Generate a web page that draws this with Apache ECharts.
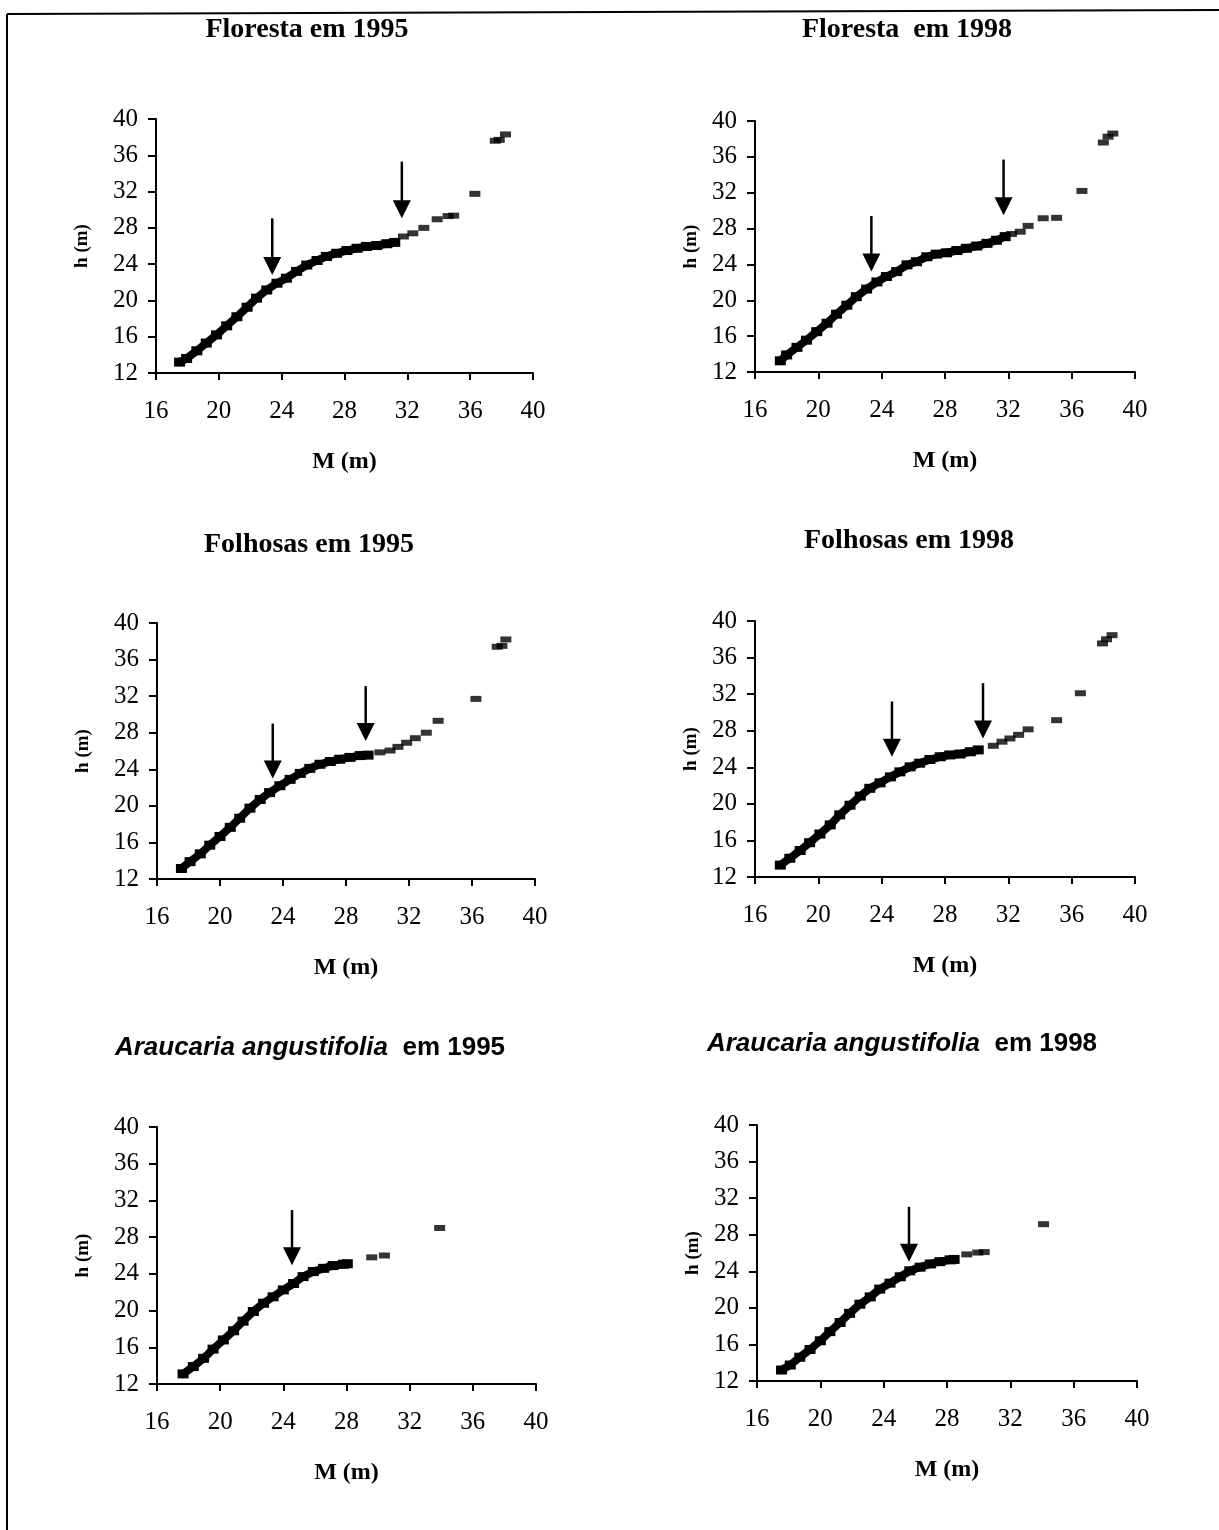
<!DOCTYPE html>
<html><head><meta charset="utf-8">
<script src="https://cdn.jsdelivr.net/npm/echarts@6.0.0/dist/echarts.min.js"></script>
<style>html,body{margin:0;padding:0;background:#fff}#c{width:1219px;height:1530px}</style>
</head><body><div id="c"></div><script>
const xTicks = [16, 20, 24, 28, 32, 36, 40];
const yTicks = [12, 16, 20, 24, 28, 32, 36, 40];
const panelTitles = ['Floresta em 1995', 'Floresta  em 1998', 'Folhosas em 1995', 'Folhosas em 1998', 'Araucaria angustifolia|  em 1995', 'Araucaria angustifolia|  em 1998'];
const xName = 'M (m)';
const yName = 'h (m)';

const floresta1995Curve = [[17.5,13.2],[17.95,13.6],[18.6,14.45],[19.2,15.3],[19.85,16.2],[20.5,17.2],[21.15,18.2],[21.8,19.25],[22.4,20.25],[23.05,21.15],[23.7,21.9],[24.3,22.45],[24.95,23.2],[25.6,23.9],[26.25,24.4],[26.85,24.85],[27.5,25.2],[28.15,25.5],[28.8,25.75],[29.4,25.95],[30.05,26.05],[30.7,26.25],[31.2,26.4]];
const floresta1995Tail = [[31.75,27.05],[32.35,27.4],[33.05,28.0],[33.9,28.95],[34.6,29.3],[34.95,29.35],[36.3,31.75],[37.6,37.6],[37.85,37.7],[38.25,38.3]];
const floresta1995Arrows = [[23.4,29.05,22.8],[31.65,35.3,29.05]];

const floresta1998Curve = [[17.6,13.25],[18.0,13.9],[18.65,14.75],[19.25,15.55],[19.9,16.5],[20.55,17.45],[21.15,18.45],[21.8,19.45],[22.4,20.4],[23.05,21.25],[23.7,22.05],[24.3,22.65],[24.95,23.2],[25.6,23.95],[26.2,24.3],[26.85,24.85],[27.45,25.15],[28.1,25.3],[28.75,25.55],[29.35,25.8],[30.0,26.05],[30.65,26.35],[31.25,26.7],[31.8,27.1]];
const floresta1998Tail = [[32.2,27.4],[32.75,27.65],[33.25,28.3],[34.2,29.15],[35.05,29.2],[36.65,32.2],[38.0,37.6],[38.3,38.25],[38.6,38.6]];
const floresta1998Arrows = [[23.35,29.4,23.2],[31.7,35.7,29.5]];

const folhosas1995Curve = [[17.55,13.15],[18.1,13.9],[18.75,14.75],[19.35,15.7],[20.0,16.65],[20.65,17.65],[21.25,18.65],[21.9,19.75],[22.55,20.7],[23.15,21.45],[23.8,22.2],[24.45,22.9],[25.1,23.55],[25.7,24.1],[26.35,24.55],[27.0,24.85],[27.6,25.1],[28.25,25.3],[28.9,25.5],[29.4,25.55]];
const folhosas1995Tail = [[30.15,25.85],[30.8,26.05],[31.3,26.45],[31.85,26.9],[32.4,27.4],[33.1,28.0],[33.85,29.3],[36.25,31.7],[37.6,37.4],[37.9,37.5],[38.15,38.2]];
const folhosas1995Arrows = [[23.35,29.0,23.0],[29.25,33.1,27.1]];

const folhosas1998Curve = [[17.6,13.3],[18.2,14.05],[18.85,14.9],[19.45,15.75],[20.1,16.7],[20.75,17.7],[21.35,18.8],[22.0,19.85],[22.65,20.85],[23.25,21.7],[23.9,22.3],[24.55,22.95],[25.15,23.5],[25.8,24.05],[26.4,24.45],[27.05,24.85],[27.7,25.15],[28.3,25.35],[28.95,25.45],[29.6,25.7],[30.1,25.9]];
const folhosas1998Tail = [[31.05,26.35],[31.6,26.8],[32.1,27.15],[32.65,27.55],[33.25,28.15],[35.05,29.15],[36.55,32.1],[37.95,37.55],[38.2,38.0],[38.55,38.45]];
const folhosas1998Arrows = [[24.65,31.2,25.15],[30.4,33.2,27.15]];

const araucaria1995Curve = [[17.65,13.1],[18.3,13.9],[18.95,14.8],[19.55,15.8],[20.2,16.8],[20.85,17.8],[21.45,18.85],[22.1,19.9],[22.75,20.8],[23.35,21.5],[24.0,22.25],[24.65,22.95],[25.25,23.7],[25.9,24.25],[26.55,24.6],[27.15,24.9],[27.8,25.05],[28.05,25.1]];
const araucaria1995Tail = [[29.6,25.8],[30.4,26.0],[33.9,29.0]];
const araucaria1995Arrows = [[24.55,30.95,24.95]];

const araucaria1998Curve = [[17.55,13.2],[18.1,13.75],[18.7,14.6],[19.35,15.45],[20.0,16.4],[20.6,17.4],[21.25,18.4],[21.85,19.4],[22.5,20.4],[23.15,21.2],[23.75,22.05],[24.4,22.7],[25.05,23.4],[25.65,24.05],[26.3,24.45],[26.95,24.8],[27.55,25.05],[28.2,25.25],[28.45,25.3]];
const araucaria1998Tail = [[29.25,25.85],[29.95,26.05],[30.35,26.1],[34.1,29.15]];
const araucaria1998Arrows = [[25.6,31.05,25.05]];

const curves = [floresta1995Curve, floresta1998Curve, folhosas1995Curve, folhosas1998Curve, araucaria1995Curve, araucaria1998Curve];
const tails = [floresta1995Tail, floresta1998Tail, folhosas1995Tail, folhosas1998Tail, araucaria1995Tail, araucaria1998Tail];
const arrows = [floresta1995Arrows, floresta1998Arrows, folhosas1995Arrows, folhosas1998Arrows, araucaria1995Arrows, araucaria1998Arrows];

// layout (pixels)
const gridBoxes = [
  {left:156, top:119, width:377, height:254},
  {left:755, top:121, width:380, height:251},
  {left:157, top:623, width:378, height:256},
  {left:755, top:621, width:380, height:256},
  {left:157, top:1127, width:379, height:257},
  {left:757, top:1125, width:380, height:256}
];
const yNameGaps = [64, 54, 64, 54, 64, 54];
const titlePos = [[307,30],[907,30],[309,545],[909,541],[310,1048],[902,1044]];

const serif = '"Liberation Serif", "Times New Roman", serif';
const sans = '"Liberation Sans", Arial, sans-serif';

const grid = gridBoxes.map(b => Object.assign({containLabel:false, outerBoundsMode:'none'}, b));
const xAxis = gridBoxes.map((b,i) => ({
  type:'value', gridIndex:i, min:xTicks[0], max:xTicks[xTicks.length-1], interval:4,
  axisLine:{show:true, onZero:false, lineStyle:{color:'#000', width:2}},
  axisTick:{show:true, inside:false, length:7, lineStyle:{color:'#000', width:2}},
  splitLine:{show:false},
  axisLabel:{color:'#000', fontFamily:serif, fontSize:25, margin:26, showMinLabel:true, showMaxLabel:true},
  name:xName, nameLocation:'middle', nameGap:77,
  nameTextStyle:{color:'#000', fontFamily:serif, fontSize:24, fontWeight:'bold'}
}));
const yAxis = gridBoxes.map((b,i) => ({
  type:'value', gridIndex:i, min:yTicks[0], max:yTicks[yTicks.length-1], interval:4,
  axisLine:{show:true, onZero:false, lineStyle:{color:'#000', width:2}},
  axisTick:{show:true, inside:false, length:8, lineStyle:{color:'#000', width:2}},
  splitLine:{show:false},
  axisLabel:{color:'#000', fontFamily:serif, fontSize:25, margin:18, showMinLabel:true, showMaxLabel:true},
  name:yName, nameLocation:'middle', nameGap:yNameGaps[i], nameRotate:90,
  nameTextStyle:{color:'#000', fontFamily:serif, fontSize:19, fontWeight:'bold'}
}));

const series = [];
curves.forEach((d,i) => {
  series.push({type:'line', xAxisIndex:i, yAxisIndex:i, data:d, symbol:'rect', symbolSize:[11,9], showSymbol:true,
    lineStyle:{color:'#000', width:8, join:'round', cap:'round'}, itemStyle:{color:'#000'}, animation:false, silent:true});
  series.push({type:'scatter', xAxisIndex:i, yAxisIndex:i, data:tails[i], symbol:'rect', symbolSize:[11,6],
    itemStyle:{color:'#000'}, animation:false, silent:true});
  series.push({type:'custom', xAxisIndex:i, yAxisIndex:i, data:arrows[i], animation:false, silent:true,
    renderItem:(params, api) => {
      const top = api.coord([api.value(0), api.value(1)]);
      const tip = api.coord([api.value(0), api.value(2)]);
      const hw = 9, hh = 18;
      return {type:'group', children:[
        {type:'line', shape:{x1:top[0], y1:top[1], x2:tip[0], y2:tip[1]-hh+1}, style:{stroke:'#000', lineWidth:2.5}},
        {type:'polygon', shape:{points:[[tip[0]-hw, tip[1]-hh],[tip[0]+hw, tip[1]-hh],[tip[0], tip[1]]]}, style:{fill:'#000'}}
      ]};
    }});
});

const graphic = [
  {type:'line', shape:{x1:7, y1:14, x2:1219, y2:10}, style:{stroke:'#000', lineWidth:2}},
  {type:'line', shape:{x1:7, y1:14, x2:7, y2:1530}, style:{stroke:'#000', lineWidth:2}}
];
panelTitles.forEach((t,i) => {
  const [x,y] = titlePos[i];
  if (t.indexOf('|') >= 0) {
    const parts = t.split('|');
    graphic.push({type:'text', x, y, style:{
      text:'{i|' + parts[0] + '}{n|' + parts[1] + '}', align:'center', verticalAlign:'middle',
      rich:{
        i:{fontFamily:sans, fontSize:26, fontWeight:'bold', fontStyle:'italic', fill:'#000'},
        n:{fontFamily:sans, fontSize:26, fontWeight:'bold', fill:'#000'}
      }}});
  } else {
    graphic.push({type:'text', x, y, style:{text:t, fontFamily:serif, fontSize:28, fontWeight:'bold', fill:'#000', align:'center', verticalAlign:'middle'}});
  }
});

const chart = echarts.init(document.getElementById('c'), null, {renderer:'canvas'});
chart.setOption({backgroundColor:'#fff', animation:false, grid, xAxis, yAxis, series, graphic});
</script></body></html>
